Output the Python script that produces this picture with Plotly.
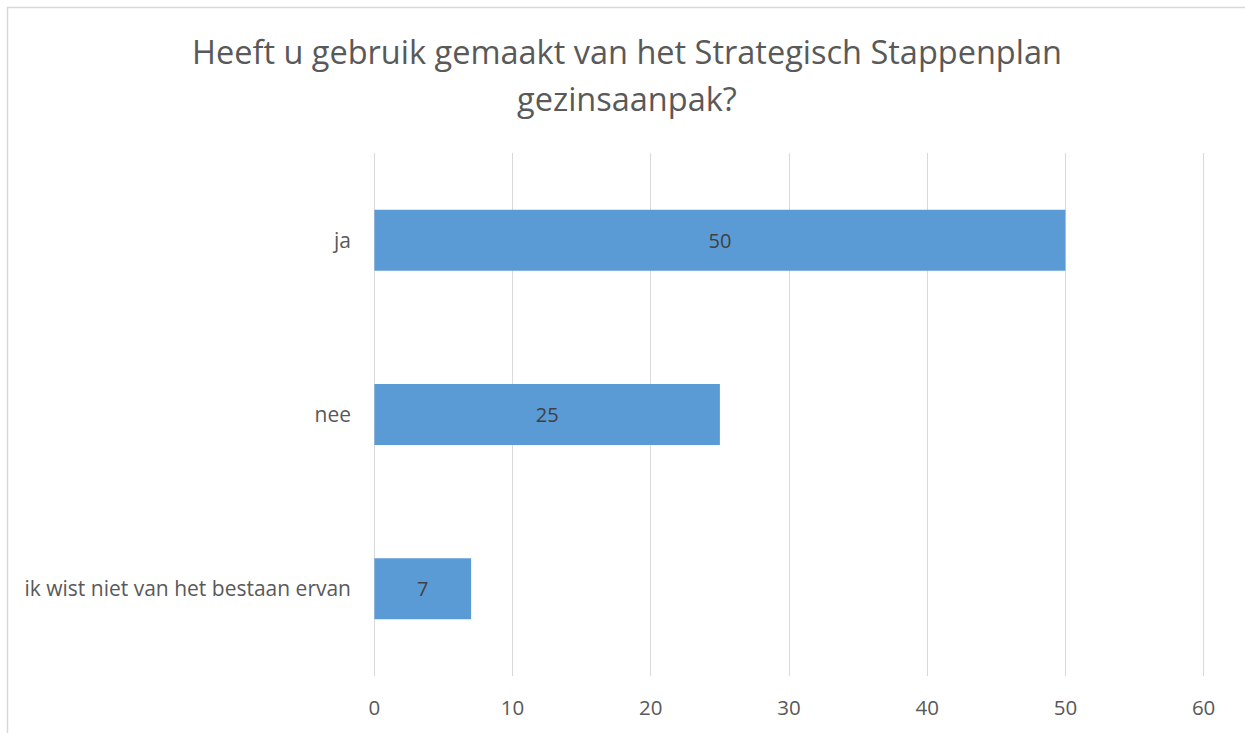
import plotly.graph_objects as go

categories = ["ja", "nee", "ik wist niet van het bestaan ervan"]
values = [50, 25, 7]
x_ticks = [0, 10, 20, 30, 40, 50, 60]
x_range = [-0.1, 60.1]
title_lines = ["Heeft u gebruik gemaakt van het Strategisch Stappenplan", "gezinsaanpak?"]

FONT = "Open Sans"
W, H = 1245, 733
L, R, T, B = 373, 40, 153, 57
pw, ph = W - L - R, H - T - B


def px(xp):
    return (xp - L) / pw


def py(yp):
    return (H - B - yp) / ph


fig = go.Figure(go.Bar(
    x=values, y=categories, orientation="h",
    marker=dict(color="#5B9BD5", line=dict(width=0)),
    text=[str(v) for v in values], textposition="inside",
    insidetextanchor="middle",
    textfont=dict(family=FONT, size=20, color="#404040"),
    hoverinfo="skip",
))

annotations = []
for line, yc in zip(title_lines, [52, 98]):
    annotations.append(dict(
        text=line, xref="paper", yref="paper", x=px(626.5), y=py(yc),
        xanchor="center", yanchor="middle", showarrow=False,
        font=dict(family=FONT, size=32.5, color="#595959")))

fig.update_layout(
    width=W, height=H,
    margin=dict(l=L, r=R, t=T, b=B),
    paper_bgcolor="white", plot_bgcolor="white",
    bargap=0.65,
    showlegend=False,
    annotations=annotations,
    xaxis=dict(range=x_range, tickvals=x_ticks, showgrid=True,
               gridcolor="#D9D9D9", gridwidth=1.3, zeroline=False,
               showline=False, ticks="", ticklabelstandoff=17,
               tickfont=dict(family=FONT, size=20.5, color="#595959")),
    yaxis=dict(categoryorder="array", categoryarray=categories,
               autorange="reversed", showgrid=False, zeroline=False,
               showline=False, ticks="", ticklabelstandoff=21,
               tickfont=dict(family=FONT, size=21, color="#595959")),
    shapes=[dict(type="rect", xref="paper", yref="paper",
                 x0=px(7.5), x1=px(W + 20),
                 y0=py(H + 20), y1=py(7.5),
                 line=dict(color="#D9D9D9", width=1.5), layer="below")],
)

fig.write_html("out.html", config={"displayModeBar": False},
               post_script="document.body.style.margin='0';")
